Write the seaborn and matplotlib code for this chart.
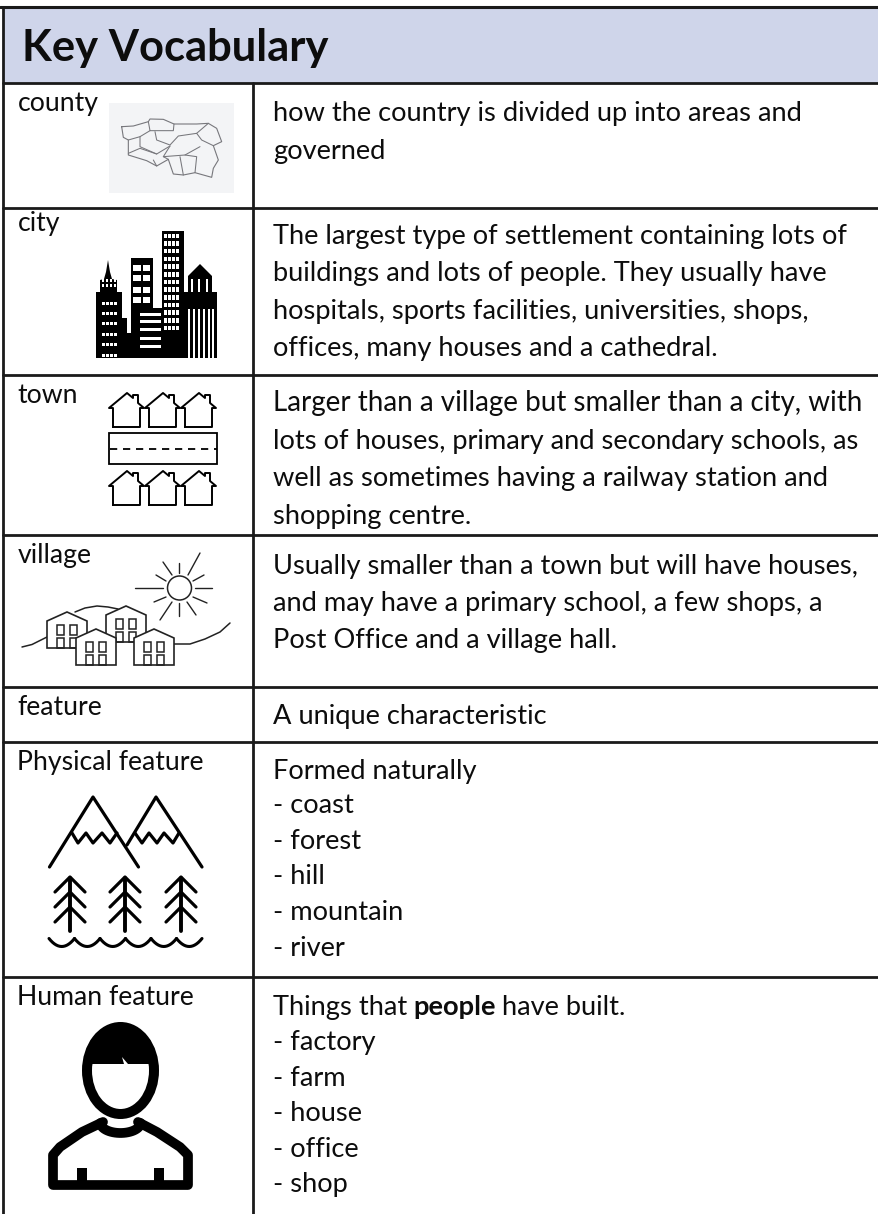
import matplotlib
matplotlib.use("Agg")
import matplotlib.pyplot as plt
from matplotlib.colors import ListedColormap
from matplotlib.patches import Rectangle, Polygon, Ellipse, Circle
import numpy as np
import seaborn as sns

W, H = 879, 1214
sns.set_theme(style="white")
plt.rcParams['font.family'] = ['Lato', 'DejaVu Sans']

title = "Key Vocabulary"
terms = ["county", "city", "town", "village", "feature", "Physical feature", "Human feature"]
term_y = [111, 231, 403, 563, 715, 770, 1005]
row_rules = [83, 208, 375, 535, 687, 742, 977]
definitions = [
    "how the country is divided up into areas and", "governed",
    "The largest type of settlement containing lots of", "buildings and lots of people. They usually have",
    "hospitals, sports facilities, universities, shops,", "offices, many houses and a cathedral.",
    "Larger than a village but smaller than a city, with", "lots of houses, primary and secondary schools, as",
    "well as sometimes having a railway station and", "shopping centre.",
    "Usually smaller than a town but will have houses,", "and may have a primary school, a few shops, a",
    "Post Office and a village hall.",
    "A unique characteristic",
    "Formed naturally", "- coast", "- forest", "- hill", "- mountain", "- river",
    "Things that", "- factory", "- farm", "- house", "- office", "- shop",
]
def_y = [121, 159, 244, 281, 319, 356, 411, 449, 486, 524, 574, 611, 648, 724,
         779, 813, 849, 884, 920, 956, 1015, 1050, 1086, 1121, 1157, 1192]
emphasis = ["people", " have built."]

fig = plt.figure(figsize=(W / 100, H / 100), dpi=100)
head = fig.add_axes([3 / W, 1 - 83 / H, (W - 3) / W, (83 - 7) / H])
sns.heatmap([[0]], cmap=ListedColormap(["#cfd5ea"]), cbar=False, ax=head, xticklabels=False, yticklabels=False)
ax = fig.add_axes([0, 0, 1, 1], facecolor="none")
ax.set_xlim(0, W); ax.set_ylim(H, 0); ax.axis("off")

K = "#0d0d0d"
RULE = "#1a1a1a"
ax.plot([0, W], [7, 7], color=RULE, lw=2.2)
ax.plot([3, 3], [7, H], color=RULE, lw=2.0)
ax.plot([253.5, 253.5], [83, H], color=RULE, lw=2.0)
for y in row_rules:
    ax.plot([3, W], [y, y], color=RULE, lw=2.0)

ax.text(22, 61, title, fontsize=31.3, fontweight="bold", color=K, va="baseline")
for t, y in zip(terms, term_y):
    ax.text(17.5, y, t, fontsize=19.2, color=K, va="baseline")
DEF_FS = 19.6
renderer = fig.canvas.get_renderer()
for t, y in zip(definitions, def_y):
    fs = 19.95 if t.startswith("Larger") else DEF_FS
    tx = ax.text(273, y, t, fontsize=fs, color=K, va="baseline")
    if t == "Things that":
        x = 273 + tx.get_window_extent(renderer).width + 6
        bold = ax.text(x, y, emphasis[0], fontsize=DEF_FS, fontweight="bold", color=K, va="baseline")
        x += bold.get_window_extent(renderer).width + 6
        ax.text(x, y, emphasis[1].strip(), fontsize=DEF_FS, color=K, va="baseline")

def line(xs, ys, lw=1.5, c="black", **kw):
    ax.plot(xs, ys, color=c, lw=lw, solid_capstyle="round", solid_joinstyle="round", **kw)

# county map (traced in 3x zoom coordinates)
ax.add_patch(Rectangle((109, 103), 125, 90, color="#f3f4f6", lw=0))
c = "#77777c"
outline = [(365,380),(400,378),(445,365),(450,357),(490,358),(522,372),(590,372),(625,370),(650,385),(665,425),(640,437),(655,480),(640,505),(635,532),(585,518),(550,525),(520,522),(505,478),(470,498),(440,482),(385,465),(385,420),(370,412)]
pts = outline + outline[:1]
line([p[0] / 3 for p in pts], [p[1] / 3 for p in pts], lw=0.8, c=c)
for seg in [[(445,365),(450,392),(520,392),(522,372)], [(385,420),(420,410),(450,392)], [(420,410),(420,440),(470,462),(510,438)],
            [(465,395),(470,420),(510,435),(535,408),(590,400),(605,420),(640,437)], [(510,438),(490,470),(555,465),(600,440)],
            [(385,460),(420,445),(470,462)], [(490,470),(505,478)], [(470,498),(460,480)], [(540,470),(550,525)], [(555,465),(590,470),(585,518)],
            [(590,400),(625,370)]]:
    line([p[0] / 3 for p in seg], [p[1] / 3 for p in seg], lw=0.75, c=c)

# city
def blk(x, y, w, h, col="black"):
    ax.add_patch(Rectangle((x, y), w, h, color=col, lw=0))
blk(96, 292, 26, 66)
ax.add_patch(Polygon([(100,292),(100,280),(104,279),(106,272),(108,260),(110,272),(112,279),(117,280),(117,292)], color="black", lw=0))
blk(122, 318, 5, 40); blk(127, 333, 4, 25)
blk(131, 258, 22, 100)
blk(140, 308, 22, 50)
blk(162, 231, 22, 127)
blk(184, 292, 33, 66)
ax.add_patch(Polygon([(188,292),(188,276),(200,264),(212,276),(212,292)], color="black", lw=0))
for x in (192, 199, 207):
    blk(x - 1.2, 279, 2.6, 13, "white")
for x in (102, 106, 110, 114):
    for y in (279, 284):
        blk(x + 0.5, y, 1.4, 3, "white")
    for y in (302, 312, 322, 333, 343, 353.5):
        blk(x, y, 2.8, 3.2, "white")
for y in (265, 275, 287, 297):
    blk(133.5, y, 8, 6, "white")
    blk(143, y, 7.5, 6, "white")
for y in (313, 320, 328, 337, 345):
    blk(140, y, 21, 2.8, "white")
for y in np.arange(233.5, 326, 7.7):
    for x in (164.5, 168.5, 172.5, 176.5):
        blk(x, y, 2.9, 4.6, "white")
for x in (188, 193, 198, 203, 208, 212.5):
    blk(x, 309, 1.7, 49, "white")

# town
def house(x, base):
    line([x, x, x - 4, x + 14, x + 20, x + 20, x + 25, x + 25, x + 31, x + 27, x + 27, x],
         [base, base - 19, base - 19, base - 34, base - 29, base - 32, base - 32, base - 24, base - 19, base - 19, base, base], lw=1.4)
for x in (113, 149, 185):
    house(x, 427)
    house(x, 505)
ax.add_patch(Rectangle((109.5, 433), 108, 31, fill=False, ec="black", lw=1.3))
ax.plot([110, 217], [449, 449], color="black", lw=1.3, ls=(0, (4, 3.2)))

# village
ax.add_patch(Circle((179.5, 588), 12, fill=False, ec="#222222", lw=1.1))
rays = [((135,588),(163,588)), ((195,588),(212,588)), ((188,575),(200,553)), ((172,602),(160,620)), ((172,575),(163,562)),
        ((187,602),(196,615)), ((179.5,563),(179.5,573)), ((179.5,603),(179.5,616)), ((193,581),(204,575)), ((193,597),(207,603)),
        ((166,581),(156,575)), ((166,597),(154,602))]
for a, b in rays:
    line([a[0], b[0]], [a[1], b[1]], lw=1.0, c="#222222")
line([22, 32, 47], [647, 644.5, 637], lw=1.1, c="#222222")
line([75, 85, 97, 108, 118], [612, 608, 606, 607, 609], lw=1.1, c="#222222")
line([173, 190, 205, 220, 230], [644, 644, 639, 632, 623], lw=1.1, c="#222222")
def vhouse(x, y):
    ax.add_patch(Polygon([(x,y+36),(x,y+9),(x+20,y),(x+40,y+9),(x+40,y+36)], closed=True, fc="white", ec="#222222", lw=1.2, zorder=3))
    for dx in (10, 23):
        ax.add_patch(Rectangle((x + dx, y + 13), 7.5, 10, fill=False, ec="#222222", lw=1.1, zorder=3))
        ax.add_patch(Rectangle((x + dx, y + 26), 7.5, 10, fill=False, ec="#222222", lw=1.1, zorder=3))
vhouse(47, 612)
vhouse(106, 606)
vhouse(76, 629)
vhouse(134, 629)

# mountains
line([49.5, 93, 138.5], [867, 797, 867], lw=2.3)
line([127, 156, 202], [845, 797, 867], lw=2.3)
line([72, 78, 86, 93, 102, 110, 117], [833, 843, 833, 843, 833, 843, 833], lw=2.3)
line([135, 142, 149, 157, 164, 173, 179], [833, 843, 833, 843, 833, 843, 833], lw=2.3)
for x in (70, 125, 181):
    line([x, x], [878, 931], lw=2.8)
    for y in (877, 892, 907):
        line([x - 15, x, x + 15], [y + 15, y, y + 15], lw=2.3)
xs = np.linspace(49, 202, 13)
for i in range(0, 12, 2):
    p = np.linspace(xs[i], xs[i + 2], 15)
    line(p, 938.5 + 8 * (1 - ((p - xs[i + 1]) / (xs[1] - xs[0])) ** 2), lw=2.2)

# person
ax.add_patch(Ellipse((120.5, 1070.5), 67, 87, fill=False, ec="black", lw=7.2))
ax.add_patch(Polygon([(87,1064),(91,1040),(105,1027),(120,1023),(136,1027),(150,1040),(154,1064),(128,1064),(122,1057),(124,1064),(105,1064)], color="black", lw=0))
line([103, 82, 60, 53, 53, 188, 188, 180, 157, 138], [1122, 1132, 1147, 1155, 1185, 1185, 1155, 1147, 1132, 1122], lw=7.0)
t = np.linspace(0, np.pi, 30)
line(120.5 + 20 * np.cos(t), 1122 + 10 * np.sin(t) + 1, lw=7.0)
ax.add_patch(Rectangle((77, 1168), 10, 18, color="black", lw=0))
ax.add_patch(Rectangle((154, 1168), 10, 18, color="black", lw=0))

fig.savefig("out.png", dpi=100)
